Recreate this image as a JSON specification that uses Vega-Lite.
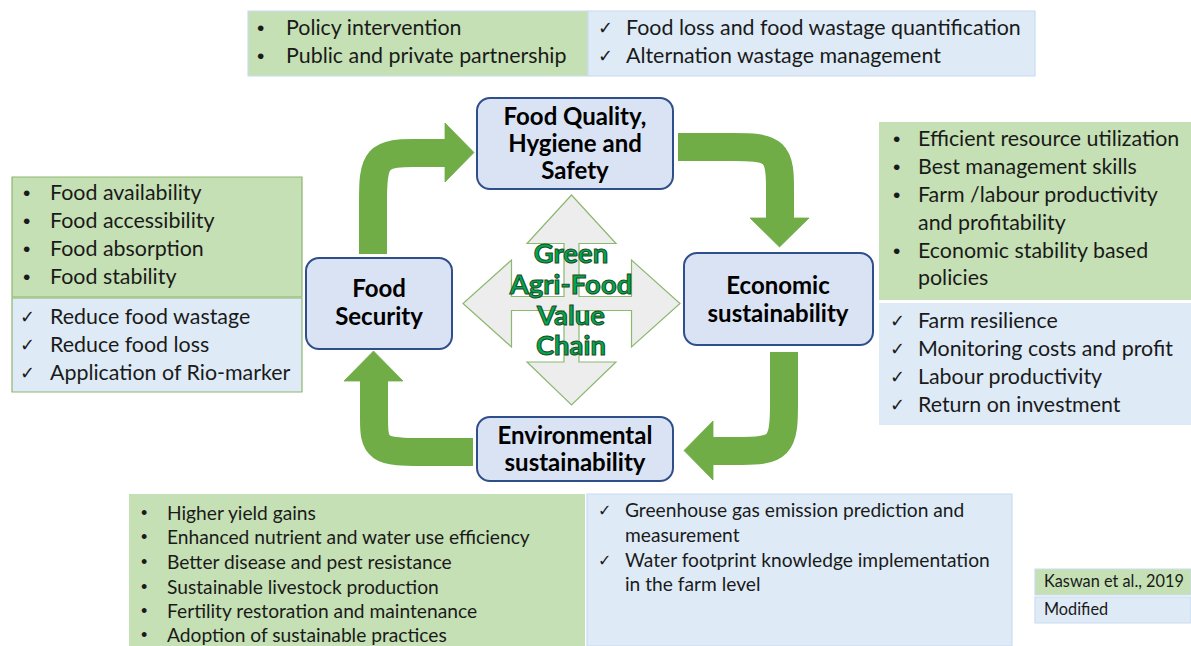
{
  "$schema": "https://vega.github.io/schema/vega-lite/v6.json",
  "width": 1191,
  "height": 646,
  "autosize": "none",
  "padding": 0,
  "background": "white",
  "config": {"view": {"stroke": null}},
  "datasets": {
    "panels": [
      {"x": 248, "x2": 588, "y": 11, "y2": 76, "fill": "green", "edge": "light"},
      {"x": 588, "x2": 1035, "y": 11, "y2": 76, "fill": "blue", "edge": "light"},
      {"x": 12, "x2": 302, "y": 177, "y2": 297, "fill": "green", "edge": "dark"},
      {"x": 12, "x2": 302, "y": 298, "y2": 392, "fill": "blue", "edge": "dark"},
      {"x": 879, "x2": 1191, "y": 122, "y2": 300, "fill": "green", "edge": "none"},
      {"x": 879, "x2": 1191, "y": 303, "y2": 425, "fill": "blue", "edge": "none"},
      {"x": 129, "x2": 585, "y": 494, "y2": 646, "fill": "green", "edge": "none"},
      {"x": 587, "x2": 1012, "y": 494, "y2": 646, "fill": "blue", "edge": "light"},
      {"x": 1035, "x2": 1191, "y": 569, "y2": 595, "fill": "green", "edge": "light"},
      {"x": 1035, "x2": 1191, "y": 597, "y2": 623, "fill": "blue", "edge": "light"}
    ],
    "nodes": [
      {"x": 477, "x2": 673, "y": 98, "y2": 189},
      {"x": 306, "x2": 452, "y": 258, "y2": 349},
      {"x": 684, "x2": 873, "y": 253, "y2": 345},
      {"x": 477, "x2": 673, "y": 417, "y2": 481}
    ],
    "cross": [
      {"i": 1, "x": 571.5, "y": 195}, {"i": 2, "x": 616, "y": 243.5}, {"i": 3, "x": 579, "y": 243.5},
      {"i": 4, "x": 579, "y": 296.5}, {"i": 5, "x": 631.5, "y": 296.5}, {"i": 6, "x": 631.5, "y": 260},
      {"i": 7, "x": 680, "y": 303.5}, {"i": 8, "x": 631.5, "y": 347}, {"i": 9, "x": 631.5, "y": 310.5},
      {"i": 10, "x": 579, "y": 310.5}, {"i": 11, "x": 579, "y": 362}, {"i": 12, "x": 616, "y": 362},
      {"i": 13, "x": 571.5, "y": 405}, {"i": 14, "x": 527, "y": 362}, {"i": 15, "x": 564, "y": 362},
      {"i": 16, "x": 564, "y": 310.5}, {"i": 17, "x": 511.5, "y": 310.5}, {"i": 18, "x": 511.5, "y": 347},
      {"i": 19, "x": 463, "y": 303.5}, {"i": 20, "x": 511.5, "y": 260}, {"i": 21, "x": 511.5, "y": 296.5},
      {"i": 22, "x": 564, "y": 296.5}, {"i": 23, "x": 564, "y": 243.5}, {"i": 24, "x": 527, "y": 243.5}
    ],
    "shafts": [
      {"id": "a1", "i": 1, "x": 373, "y": 254}, {"id": "a1", "i": 2, "x": 373, "y": 200}, {"id": "a1", "i": 3, "x": 373, "y": 153}, {"id": "a1", "i": 4, "x": 415, "y": 153}, {"id": "a1", "i": 5, "x": 447, "y": 153},
      {"id": "a2", "i": 1, "x": 678, "y": 147}, {"id": "a2", "i": 2, "x": 735, "y": 147}, {"id": "a2", "i": 3, "x": 780, "y": 147}, {"id": "a2", "i": 4, "x": 780, "y": 190}, {"id": "a2", "i": 5, "x": 780, "y": 220},
      {"id": "a3", "i": 1, "x": 784, "y": 352}, {"id": "a3", "i": 2, "x": 784, "y": 405}, {"id": "a3", "i": 3, "x": 784, "y": 451}, {"id": "a3", "i": 4, "x": 740, "y": 451}, {"id": "a3", "i": 5, "x": 711, "y": 451},
      {"id": "a4", "i": 1, "x": 473, "y": 452}, {"id": "a4", "i": 2, "x": 420, "y": 452}, {"id": "a4", "i": 3, "x": 374, "y": 452}, {"id": "a4", "i": 4, "x": 374, "y": 420}, {"id": "a4", "i": 5, "x": 374, "y": 379}
    ],
    "heads": [
      {"id": "h1", "i": 1, "x": 445, "y": 123}, {"id": "h1", "i": 2, "x": 474, "y": 152.5}, {"id": "h1", "i": 3, "x": 445, "y": 182},
      {"id": "h2", "i": 1, "x": 750, "y": 218}, {"id": "h2", "i": 2, "x": 779.5, "y": 247}, {"id": "h2", "i": 3, "x": 809, "y": 218},
      {"id": "h3", "i": 1, "x": 713, "y": 421}, {"id": "h3", "i": 2, "x": 684, "y": 450.5}, {"id": "h3", "i": 3, "x": 713, "y": 480},
      {"id": "h4", "i": 1, "x": 344, "y": 381}, {"id": "h4", "i": 2, "x": 373.5, "y": 351}, {"id": "h4", "i": 3, "x": 403, "y": 381}
    ],
    "labels": [
      {"g": "bullet", "x": 257, "y": 29, "t": "•"},
      {"g": "bullet", "x": 257, "y": 57, "t": "•"},
      {"g": "list", "x": 286, "y": 29, "t": "Policy intervention"},
      {"g": "list", "x": 286, "y": 57, "t": "Public and private partnership"},
      {"g": "check", "x": 598, "y": 29, "t": "✓"},
      {"g": "check", "x": 598, "y": 57, "t": "✓"},
      {"g": "list", "x": 626, "y": 29, "t": "Food loss and food wastage quantification"},
      {"g": "list", "x": 626, "y": 57, "t": "Alternation wastage management"},
      {"g": "bullet", "x": 23, "y": 194, "t": "•"},
      {"g": "bullet", "x": 23, "y": 222, "t": "•"},
      {"g": "bullet", "x": 23, "y": 250, "t": "•"},
      {"g": "bullet", "x": 23, "y": 278, "t": "•"},
      {"g": "list", "x": 50, "y": 194, "t": "Food availability"},
      {"g": "list", "x": 50, "y": 222, "t": "Food accessibility"},
      {"g": "list", "x": 50, "y": 250, "t": "Food absorption"},
      {"g": "list", "x": 50, "y": 278, "t": "Food stability"},
      {"g": "check", "x": 20, "y": 318, "t": "✓"},
      {"g": "check", "x": 20, "y": 346, "t": "✓"},
      {"g": "check", "x": 20, "y": 374, "t": "✓"},
      {"g": "list", "x": 50, "y": 318, "t": "Reduce food wastage"},
      {"g": "list", "x": 50, "y": 346, "t": "Reduce food loss"},
      {"g": "list", "x": 50, "y": 374, "t": "Application of Rio-marker"},
      {"g": "bullet", "x": 893, "y": 140, "t": "•"},
      {"g": "bullet", "x": 893, "y": 168, "t": "•"},
      {"g": "bullet", "x": 893, "y": 196, "t": "•"},
      {"g": "bullet", "x": 893, "y": 252, "t": "•"},
      {"g": "list", "x": 918, "y": 140, "t": "Efficient resource utilization"},
      {"g": "list", "x": 918, "y": 168, "t": "Best management skills"},
      {"g": "list", "x": 918, "y": 196, "t": "Farm /labour productivity"},
      {"g": "list", "x": 918, "y": 224, "t": "and profitability"},
      {"g": "list", "x": 918, "y": 252, "t": "Economic stability based"},
      {"g": "list", "x": 918, "y": 279, "t": "policies"},
      {"g": "check", "x": 890, "y": 322, "t": "✓"},
      {"g": "check", "x": 890, "y": 350, "t": "✓"},
      {"g": "check", "x": 890, "y": 378, "t": "✓"},
      {"g": "check", "x": 890, "y": 406, "t": "✓"},
      {"g": "list", "x": 918, "y": 322, "t": "Farm resilience"},
      {"g": "list", "x": 918, "y": 350, "t": "Monitoring costs and profit"},
      {"g": "list", "x": 918, "y": 378, "t": "Labour productivity"},
      {"g": "list", "x": 918, "y": 406, "t": "Return on investment"},
      {"g": "smallbullet", "x": 141, "y": 514, "t": "•"},
      {"g": "smallbullet", "x": 141, "y": 538, "t": "•"},
      {"g": "smallbullet", "x": 141, "y": 563, "t": "•"},
      {"g": "smallbullet", "x": 141, "y": 588, "t": "•"},
      {"g": "smallbullet", "x": 141, "y": 612, "t": "•"},
      {"g": "smallbullet", "x": 141, "y": 636, "t": "•"},
      {"g": "small", "x": 167, "y": 514, "t": "Higher yield gains"},
      {"g": "small", "x": 167, "y": 538, "t": "Enhanced nutrient and water use efficiency"},
      {"g": "small", "x": 167, "y": 563, "t": "Better disease and pest resistance"},
      {"g": "small", "x": 167, "y": 588, "t": "Sustainable livestock production"},
      {"g": "small", "x": 167, "y": 612, "t": "Fertility restoration and maintenance"},
      {"g": "small", "x": 167, "y": 636, "t": "Adoption of sustainable practices"},
      {"g": "smallcheck", "x": 598, "y": 511, "t": "✓"},
      {"g": "smallcheck", "x": 598, "y": 561, "t": "✓"},
      {"g": "small", "x": 625, "y": 511, "t": "Greenhouse gas emission prediction and"},
      {"g": "small", "x": 625, "y": 536, "t": "measurement"},
      {"g": "small", "x": 625, "y": 561, "t": "Water footprint knowledge implementation"},
      {"g": "small", "x": 625, "y": 585, "t": "in the farm level"},
      {"g": "note", "x": 1044, "y": 582, "t": "Kaswan et al., 2019"},
      {"g": "note", "x": 1044, "y": 610, "t": "Modified"}
    ],
    "nodeText": [
      {"x": 575, "y": 118, "t": "Food Quality,"},
      {"x": 575, "y": 145, "t": "Hygiene and"},
      {"x": 575, "y": 172, "t": "Safety"},
      {"x": 379, "y": 290, "t": "Food"},
      {"x": 379, "y": 318, "t": "Security"},
      {"x": 778, "y": 287, "t": "Economic"},
      {"x": 778, "y": 315, "t": "sustainability"},
      {"x": 575, "y": 437, "t": "Environmental"},
      {"x": 575, "y": 464, "t": "sustainability"}
    ],
    "centerText": [
      {"x": 571, "y": 255, "t": "Green"},
      {"x": 571, "y": 286, "t": "Agri-Food"},
      {"x": 571, "y": 317, "t": "Value"},
      {"x": 571, "y": 347, "t": "Chain"}
    ]
  },
  "layer": [
    {
      "data": {"name": "panels"},
      "mark": {"type": "rect", "strokeWidth": 1.2},
      "encoding": {
        "x": {"field": "x", "type": "quantitative", "scale": {"domain": [0, 1191], "nice": false, "zero": false}, "axis": null},
        "x2": {"field": "x2"},
        "y": {"field": "y", "type": "quantitative", "scale": {"domain": [0, 646], "nice": false, "zero": false, "reverse": true}, "axis": null},
        "y2": {"field": "y2"},
        "fill": {"field": "fill", "type": "nominal", "scale": {"domain": ["green", "blue"], "range": ["#c5e0b4", "#deebf7"]}, "legend": null},
        "stroke": {"field": "edge", "type": "nominal", "scale": {"domain": ["light", "dark", "none"], "range": ["#c9dcef", "#8db56d", "transparent"]}, "legend": null}
      }
    },
    {
      "data": {"name": "cross"},
      "mark": {"type": "line", "interpolate": "linear-closed", "fill": "#ededed", "stroke": "#8cb870", "strokeWidth": 1.2},
      "encoding": {
        "x": {"field": "x", "type": "quantitative", "scale": {"domain": [0, 1191], "nice": false, "zero": false}, "axis": null},
        "y": {"field": "y", "type": "quantitative", "scale": {"domain": [0, 646], "nice": false, "zero": false, "reverse": true}, "axis": null},
        "order": {"field": "i", "type": "quantitative"}
      }
    },
    {
      "data": {"name": "shafts"},
      "mark": {"type": "line", "interpolate": "basis", "stroke": "#70ad47", "strokeWidth": 28, "strokeCap": "butt"},
      "encoding": {
        "x": {"field": "x", "type": "quantitative", "scale": {"domain": [0, 1191], "nice": false, "zero": false}, "axis": null},
        "y": {"field": "y", "type": "quantitative", "scale": {"domain": [0, 646], "nice": false, "zero": false, "reverse": true}, "axis": null},
        "detail": {"field": "id", "type": "nominal"},
        "order": {"field": "i", "type": "quantitative"}
      }
    },
    {
      "data": {"name": "heads"},
      "mark": {"type": "line", "interpolate": "linear-closed", "fill": "#70ad47", "stroke": "#70ad47", "strokeWidth": 0.8},
      "encoding": {
        "x": {"field": "x", "type": "quantitative", "scale": {"domain": [0, 1191], "nice": false, "zero": false}, "axis": null},
        "y": {"field": "y", "type": "quantitative", "scale": {"domain": [0, 646], "nice": false, "zero": false, "reverse": true}, "axis": null},
        "detail": {"field": "id", "type": "nominal"},
        "order": {"field": "i", "type": "quantitative"}
      }
    },
    {
      "data": {"name": "nodes"},
      "mark": {"type": "rect", "cornerRadius": 13, "fill": "#dae3f3", "stroke": "#2f4f8a", "strokeWidth": 2},
      "encoding": {
        "x": {"field": "x", "type": "quantitative", "scale": {"domain": [0, 1191], "nice": false, "zero": false}, "axis": null},
        "x2": {"field": "x2"},
        "y": {"field": "y", "type": "quantitative", "scale": {"domain": [0, 646], "nice": false, "zero": false, "reverse": true}, "axis": null},
        "y2": {"field": "y2"}
      }
    },
    {
      "data": {"name": "labels"},
      "transform": [{"filter": "datum.g == 'list'"}],
      "mark": {"type": "text", "align": "left", "baseline": "middle", "font": "Lato", "fontSize": 21.4, "fill": "#1a1a1a"},
      "encoding": {
        "x": {"field": "x", "type": "quantitative", "scale": {"domain": [0, 1191], "nice": false, "zero": false}, "axis": null},
        "y": {"field": "y", "type": "quantitative", "scale": {"domain": [0, 646], "nice": false, "zero": false, "reverse": true}, "axis": null},
        "text": {"field": "t"}
      }
    },
    {
      "data": {"name": "labels"},
      "transform": [{"filter": "datum.g == 'bullet'"}],
      "mark": {"type": "text", "align": "left", "baseline": "middle", "font": "Liberation Sans", "fontSize": 21, "fill": "#1a1a1a"},
      "encoding": {
        "x": {"field": "x", "type": "quantitative", "scale": {"domain": [0, 1191], "nice": false, "zero": false}, "axis": null},
        "y": {"field": "y", "type": "quantitative", "scale": {"domain": [0, 646], "nice": false, "zero": false, "reverse": true}, "axis": null},
        "text": {"field": "t"}
      }
    },
    {
      "data": {"name": "labels"},
      "transform": [{"filter": "datum.g == 'check'"}],
      "mark": {"type": "text", "align": "left", "baseline": "middle", "font": "DejaVu Sans", "fontSize": 18, "fill": "#1a1a1a"},
      "encoding": {
        "x": {"field": "x", "type": "quantitative", "scale": {"domain": [0, 1191], "nice": false, "zero": false}, "axis": null},
        "y": {"field": "y", "type": "quantitative", "scale": {"domain": [0, 646], "nice": false, "zero": false, "reverse": true}, "axis": null},
        "text": {"field": "t"}
      }
    },
    {
      "data": {"name": "labels"},
      "transform": [{"filter": "datum.g == 'small'"}],
      "mark": {"type": "text", "align": "left", "baseline": "middle", "font": "Lato", "fontSize": 19.2, "fill": "#1a1a1a"},
      "encoding": {
        "x": {"field": "x", "type": "quantitative", "scale": {"domain": [0, 1191], "nice": false, "zero": false}, "axis": null},
        "y": {"field": "y", "type": "quantitative", "scale": {"domain": [0, 646], "nice": false, "zero": false, "reverse": true}, "axis": null},
        "text": {"field": "t"}
      }
    },
    {
      "data": {"name": "labels"},
      "transform": [{"filter": "datum.g == 'smallbullet'"}],
      "mark": {"type": "text", "align": "left", "baseline": "middle", "font": "Liberation Sans", "fontSize": 18, "fill": "#1a1a1a"},
      "encoding": {
        "x": {"field": "x", "type": "quantitative", "scale": {"domain": [0, 1191], "nice": false, "zero": false}, "axis": null},
        "y": {"field": "y", "type": "quantitative", "scale": {"domain": [0, 646], "nice": false, "zero": false, "reverse": true}, "axis": null},
        "text": {"field": "t"}
      }
    },
    {
      "data": {"name": "labels"},
      "transform": [{"filter": "datum.g == 'smallcheck'"}],
      "mark": {"type": "text", "align": "left", "baseline": "middle", "font": "DejaVu Sans", "fontSize": 16, "fill": "#1a1a1a"},
      "encoding": {
        "x": {"field": "x", "type": "quantitative", "scale": {"domain": [0, 1191], "nice": false, "zero": false}, "axis": null},
        "y": {"field": "y", "type": "quantitative", "scale": {"domain": [0, 646], "nice": false, "zero": false, "reverse": true}, "axis": null},
        "text": {"field": "t"}
      }
    },
    {
      "data": {"name": "labels"},
      "transform": [{"filter": "datum.g == 'note'"}],
      "mark": {"type": "text", "align": "left", "baseline": "middle", "font": "Lato", "fontSize": 16.3, "fill": "#1a1a1a"},
      "encoding": {
        "x": {"field": "x", "type": "quantitative", "scale": {"domain": [0, 1191], "nice": false, "zero": false}, "axis": null},
        "y": {"field": "y", "type": "quantitative", "scale": {"domain": [0, 646], "nice": false, "zero": false, "reverse": true}, "axis": null},
        "text": {"field": "t"}
      }
    },
    {
      "data": {"name": "nodeText"},
      "mark": {"type": "text", "align": "center", "baseline": "middle", "font": "Lato", "fontWeight": "bold", "fontSize": 24, "fill": "#000000"},
      "encoding": {
        "x": {"field": "x", "type": "quantitative", "scale": {"domain": [0, 1191], "nice": false, "zero": false}, "axis": null},
        "y": {"field": "y", "type": "quantitative", "scale": {"domain": [0, 646], "nice": false, "zero": false, "reverse": true}, "axis": null},
        "text": {"field": "t"}
      }
    },
    {
      "data": {"name": "centerText"},
      "mark": {"type": "text", "align": "center", "baseline": "middle", "font": "Lato", "fontWeight": "bold", "fontSize": 27.5, "fill": "#00a84f", "stroke": "#1d4a24", "strokeWidth": 1},
      "encoding": {
        "x": {"field": "x", "type": "quantitative", "scale": {"domain": [0, 1191], "nice": false, "zero": false}, "axis": null},
        "y": {"field": "y", "type": "quantitative", "scale": {"domain": [0, 646], "nice": false, "zero": false, "reverse": true}, "axis": null},
        "text": {"field": "t"}
      }
    }
  ]
}
